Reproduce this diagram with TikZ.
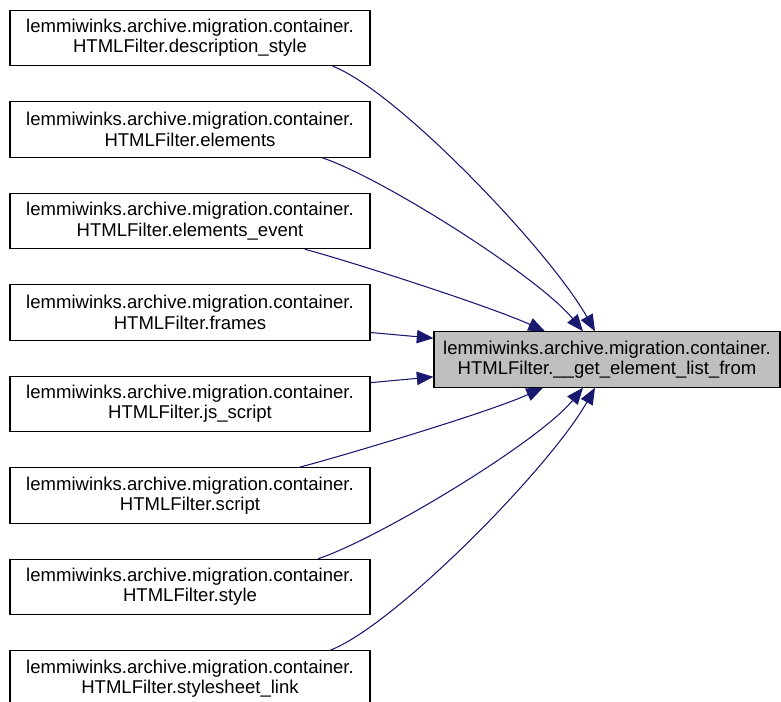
\documentclass[tikz,border=0pt]{standalone}
\usepackage{fontspec}
\setmainfont{Liberation Sans}
\usetikzlibrary{arrows.meta}
\definecolor{edgeblue}{HTML}{191970}
\definecolor{hlgray}{HTML}{BFBFBF}
\tikzset{
  box/.style={draw=black, line width=0.8pt, minimum width=270pt, minimum height=41.5pt,
    inner sep=0pt, align=center, font=\fontsize{13.9}{15.2}\selectfont},
  hlbox/.style={box, fill=hlgray, minimum width=259.5pt},
  edge/.style={draw=edgeblue, line width=0.8pt, -{Triangle[length=12.5pt,width=10pt]}},
}
\begin{document}
\begin{tikzpicture}[x=0.75pt,y=-0.75pt]
\useasboundingbox (0,0) rectangle (781,702);
\node[box] (d1) at (190,38) {lemmiwinks.archive.migration.container.\\HTMLFilter.description\_style};
\node[box] (d2) at (190,129.5) {lemmiwinks.archive.migration.container.\\HTMLFilter.elements};
\node[box] (d3) at (190,221) {lemmiwinks.archive.migration.container.\\HTMLFilter.elements\_event};
\node[box] (d4) at (190,312.5) {lemmiwinks.archive.migration.container.\\HTMLFilter.frames};
\node[box] (d5) at (190,404) {lemmiwinks.archive.migration.container.\\HTMLFilter.js\_script};
\node[box] (d6) at (190,495.5) {lemmiwinks.archive.migration.container.\\HTMLFilter.script};
\node[box] (d7) at (190,587) {lemmiwinks.archive.migration.container.\\HTMLFilter.style};
\node[box] (d8) at (190,678.5) {lemmiwinks.archive.migration.container.\\HTMLFilter.stylesheet\_link};
\node[hlbox] (t) at (607,359.5) {lemmiwinks.archive.migration.container.\\HTMLFilter.\_\_get\_element\_list\_from};

\path[edge] ([xshift=107pt]d1.south) .. controls +(65,25) and +(-45,-80) .. ([xshift=-9pt]t.north);
\path[edge] ([xshift=99pt]d2.south) .. controls +(60,20) and +(-45,-55) .. ([xshift=-18pt]t.north);
\path[edge] ([xshift=86pt]d3.south) .. controls +(45,12) and +(-55,-25) .. ([xshift=-46.5pt]t.north);
\path[edge] ([yshift=-15pt]d4.east) -- ([yshift=16pt]t.west);
\path[edge] ([yshift=16pt]d5.east) -- ([yshift=-13pt]t.west);
\path[edge] ([xshift=82pt]d6.north) .. controls +(45,-12) and +(-55,25) .. ([xshift=-48pt]t.south);
\path[edge] ([xshift=96pt]d7.north) .. controls +(60,-20) and +(-45,55) .. ([xshift=-18pt]t.south);
\path[edge] ([xshift=105pt]d8.north) .. controls +(65,-25) and +(-45,80) .. ([xshift=-9pt]t.south);
\end{tikzpicture}
\end{document}
